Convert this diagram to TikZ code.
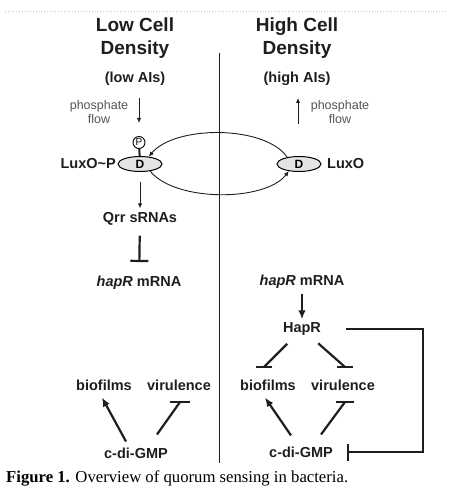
\documentclass[tikz,border=0pt]{standalone}
\usepackage{fontspec}
\setmainfont{Liberation Serif}
\setsansfont{Liberation Sans}
\usetikzlibrary{arrows.meta,shapes.geometric}
\definecolor{flowgray}{RGB}{85,85,85}
\definecolor{domfill}{RGB}{228,228,228}
\definecolor{inkgray}{RGB}{30,30,30}

\tikzset{
  ttl/.style={font=\sffamily\bfseries\fontsize{19}{23}\selectfont, align=center, text=inkgray},
  lbl/.style={font=\sffamily\bfseries\fontsize{14.5}{16}\selectfont, inner sep=1pt, text=inkgray},
  flowtxt/.style={font=\sffamily\fontsize{12.5}{14}\selectfont, align=center, text=flowgray},
  dom/.style={ellipse, draw, fill=domfill, line width=1pt, minimum width=44, minimum height=15, inner sep=0pt,
    font=\sffamily\bfseries\fontsize{12}{12}\selectfont},
  phosdot/.style={circle, draw, line width=0.9pt, minimum size=12, inner sep=0pt,
    font=\sffamily\fontsize{10}{10}\selectfont},
  act/.style={draw=inkgray, line width=2.2pt, -{Latex[length=9pt,width=7.5pt]}},
  inh/.style={draw=inkgray, line width=2.2pt},
  tbar/.style={draw=inkgray, line width=2.2pt},
  thinarr/.style={draw=inkgray, line width=0.9pt, -{Latex[length=5pt,width=4.5pt]}},
}

\begin{document}
\begin{tikzpicture}[x=1pt,y=-1pt]
  \useasboundingbox (0,0) rectangle (464,494);
  \draw[black!22, dotted, line width=0.8pt] (5,11) -- (445,11);

  % headings
  \node[ttl] (lowT) at (135,38) {Low Cell\\Density};
  \node[ttl] (highT) at (297,38) {High Cell\\Density};
  \node[lbl] (lowAI) at (135,79) {(low AIs)};
  \node[lbl] (highAI) at (297,79) {(high AIs)};

  % divider
  \coordinate (divtop) at (219,53);
  \coordinate (divbot) at (219,463);
  \draw[inkgray, line width=0.9pt] (divtop) -- (divbot);

  % phosphate flow
  \node[flowtxt] (flowL) at (99,112) {phosphate\\flow};
  \node[flowtxt] (flowR) at (340,112) {phosphate\\flow};
  \coordinate (flowLa) at (139,98);
  \coordinate (flowLb) at (139,123);
  \coordinate (flowRa) at (298,124);
  \coordinate (flowRb) at (298,98);
  \draw[thinarr] (flowLa) -- (flowLb);
  \draw[thinarr] (flowRa) -- (flowRb);

  % LuxO states
  \node[dom] (luxoP) at (140,164) {D};
  \node[phosdot] (phos) at (139,142.5) {P};
  \draw[inkgray, line width=2pt] (phos) -- (luxoP);
  \node[lbl, anchor=east] (luxoPlbl) at (117,164) {LuxO\textasciitilde P};
  \node[dom] (luxo) at (299,164) {D};
  \node[lbl, anchor=west] (luxolbl) at (326,164) {LuxO};
  \draw[thinarr] (luxo.150) .. controls (265,125) and (175,125) .. (luxoP.40);
  \draw[thinarr] (luxoP.-35) .. controls (175,202) and (265,202) .. (luxo.-145);

  % low cell density
  \node[lbl] (qrr) at (140,219) {Qrr sRNAs};
  \node[lbl] (hapRL) at (139,283) {\textit{hapR} mRNA};
  \draw[thinarr, shorten <=10pt, shorten >=3pt] (luxoP) -- (qrr);
  \draw[inh, -{Bar[width=18pt]}, shorten <=9pt, shorten >=13pt] (qrr) -- (hapRL);

  \node[lbl] (bioL) at (104,385) {biofilms};
  \node[lbl] (virL) at (179,385) {virulence};
  \node[lbl] (cdgL) at (136,453) {c-di-GMP};
  \coordinate (vbarL) at (180,402);
  \draw[act] ([xshift=-10pt,yshift=5pt]cdgL.north) -- ([xshift=-2pt,yshift=-6pt]bioL.south);
  \draw[inh] ([xshift=21pt,yshift=12pt]cdgL.north) -- (vbarL);
  \draw[tbar] ([xshift=-10pt]vbarL) -- ([xshift=10pt]vbarL);

  % high cell density
  \node[lbl] (hapRR) at (302,282) {\textit{hapR} mRNA};
  \node[lbl] (hapr) at (302,329) {HapR};
  \draw[act, shorten <=4pt, shorten >=2pt] (hapRR) -- (hapr);

  \node[lbl] (bioR) at (268,385) {biofilms};
  \node[lbl] (virR) at (343,385) {virulence};
  \node[lbl] (cdgR) at (301,452) {c-di-GMP};
  \coordinate (bbarR) at (264,367);
  \coordinate (vbarR) at (345,367);
  \draw[inh, shorten <=10pt] (hapr) -- (bbarR);
  \draw[tbar] ([xshift=-8pt]bbarR) -- ([xshift=8pt]bbarR);
  \draw[inh, shorten <=10pt] (hapr) -- (vbarR);
  \draw[tbar] ([xshift=-8pt]vbarR) -- ([xshift=8pt]vbarR);

  \coordinate (vbarR2) at (345,402);
  \draw[act] ([xshift=-10pt,yshift=10pt]cdgR.north) -- ([xshift=-3pt,yshift=-6pt]bioR.south);
  \draw[inh] ([xshift=20pt,yshift=11pt]cdgR.north) -- (vbarR2);
  \draw[tbar] ([xshift=-9pt]vbarR2) -- ([xshift=9pt]vbarR2);

  % feedback onto c-di-GMP
  \coordinate (fbk) at (423,329);
  \draw[inh, line width=2pt, -{Bar[width=17pt]}, shorten <=24pt, shorten >=13pt]
    (hapr.east) -- (fbk) |- (cdgR.east);

  % caption
  \node[anchor=west, inner sep=0pt, font=\fontsize{16.7}{20}\selectfont] (cap) at (6,478)
    {\textbf{Figure 1.} Overview of quorum sensing in bacteria.};
\end{tikzpicture}
\end{document}
